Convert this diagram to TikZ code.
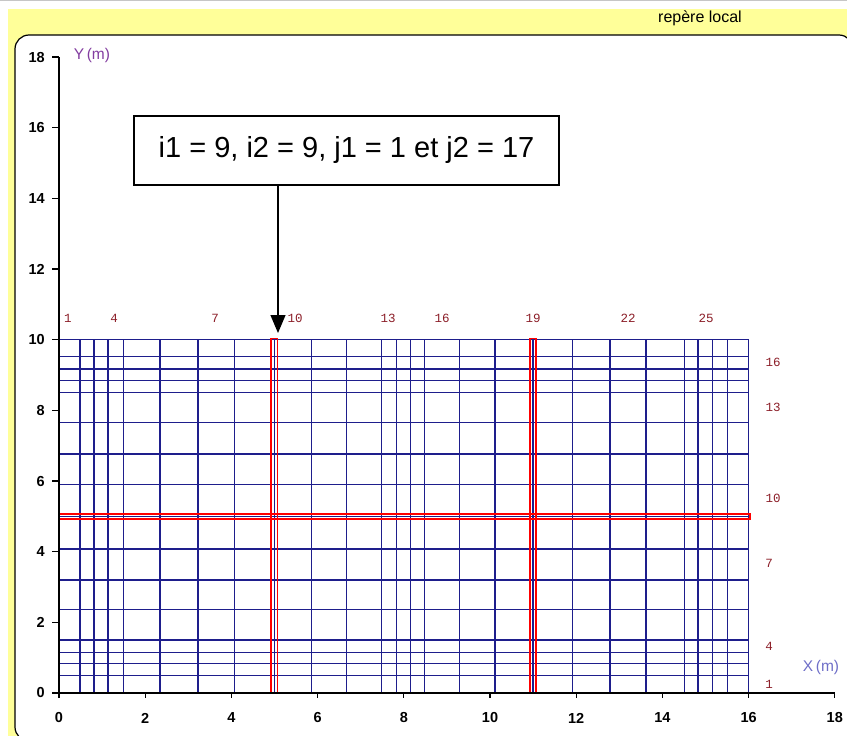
\documentclass[tikz,border=0pt]{standalone}
\usepackage{fontspec}
\setmainfont{Liberation Sans}
\newfontfamily\monof{Liberation Mono}
\usetikzlibrary{arrows.meta}
\definecolor{bgyellow}{RGB}{255,255,153}
\definecolor{gridblue}{RGB}{30,30,140}
\definecolor{lblred}{RGB}{140,30,40}
\definecolor{ylab}{RGB}{130,60,160}
\definecolor{xlab}{RGB}{110,110,200}
\tikzset{
  gridline/.style={draw=gridblue, line width=1.4pt},
  redmark/.style={draw=red, line width=1.7pt},
  axisline/.style={draw=black, line width=1.3pt},
  ticklbl/.style={font=\fontsize{14.5}{16}\selectfont\bfseries, inner sep=0pt},
  idxlbl/.style={font=\monof\fontsize{12.5}{14}\selectfont, text=lblred, inner sep=0pt},
  infobox/.style={draw=black, line width=1.2pt, fill=white, minimum width=425pt, minimum height=69pt, font=\fontsize{29}{34}\selectfont},
}
\begin{document}
\begin{tikzpicture}[x=1pt,y=-1pt]
\useasboundingbox (0,0) rectangle (847,736);
\fill[white] (0,0) rectangle (847,736);
\draw[gray!45, line width=1pt] (0,0.5) -- (847,0.5);
\fill[bgyellow] (8,9) rectangle (847,736);
\begin{scope}
  \clip (0,0) rectangle (847,736);
  \draw[fill=white, line width=1.2pt, rounded corners=14pt] (15,35) rectangle (853,741);
\end{scope}
\node[font=\fontsize{16}{18}\selectfont, inner sep=0pt] (title) at (700,18) {repère local};

\begin{scope}[shift={(59pt,-693pt)}, x=43.1pt, y=35.33pt]
  % grid
  \foreach \xx in {0,0.487,0.812,1.137,1.5,2.34,3.225,4.07,5,5.854,6.67,7.48,7.83,8.15,8.48,9.29,10.12,11,11.91,12.78,13.62,14.51,14.83,15.16,15.51,16}
    \draw[gridline] (\xx,0) -- (\xx,10);
  \foreach \yy in {0,0.5,0.83,1.15,1.5,2.37,3.2,4.08,5,5.91,6.77,7.65,8.5,8.84,9.17,9.52,10}
    \draw[gridline] (0,\yy) -- (16,\yy);
  % red markers
  \draw[redmark] (4.92,0) rectangle (5.07,10.03);
  \draw[redmark] (10.92,0) rectangle (11.07,10.03);
  \draw[redmark] (0,4.925) rectangle (16.03,5.075);
  % axes
  \draw[axisline] (0,18) -- (0,0) -- (18,0);
  \foreach \v in {0,2,...,18} {
    \draw[axisline] (0,\v) -- ++(-7pt,0);
    \node[ticklbl, anchor=east] (yt\v) at ([xshift=-14pt]0,\v) {\v};
    \draw[axisline] (\v,0) -- ++(0,-5pt);
    \node[ticklbl] (xt\v) at ([yshift=-25pt]\v,0) {\v};
  }
\end{scope}

% axis names
\node[font=\fontsize{15.5}{17}\selectfont, text=ylab, inner sep=0pt] (ylabel) at (92,55) {Y\,(m)};
\node[font=\fontsize{15.5}{17}\selectfont, text=xlab, inner sep=0pt] (xlabel) at (821,667) {X\,(m)};

% column indices
\node[idxlbl] (c1) at (68,318) {1};
\node[idxlbl] (c4) at (114,318) {4};
\node[idxlbl] (c7) at (215,318) {7};
\node[idxlbl] (c10) at (295,318) {10};
\node[idxlbl] (c13) at (388,318) {13};
\node[idxlbl] (c16) at (442,318) {16};
\node[idxlbl] (c19) at (533,318) {19};
\node[idxlbl] (c22) at (628,318) {22};
\node[idxlbl] (c25) at (706,318) {25};
% row indices
\node[idxlbl] (r16) at (773,362) {16};
\node[idxlbl] (r13) at (773,407) {13};
\node[idxlbl] (r10) at (773,498) {10};
\node[idxlbl] (r7) at (769,563) {7};
\node[idxlbl] (r4) at (769,646) {4};
\node[idxlbl] (r1) at (769,684) {1};

% info box and arrow
\node[infobox] (box) at (346.5,150.5) {i1 = 9, i2 = 9, j1 = 1 et j2 = 17};
\coordinate (tip) at (278,333);
\draw[line width=1.2pt, -{Triangle[width=15pt,length=18pt]}] (box.south -| tip) -- (tip);
\end{tikzpicture}
\end{document}
